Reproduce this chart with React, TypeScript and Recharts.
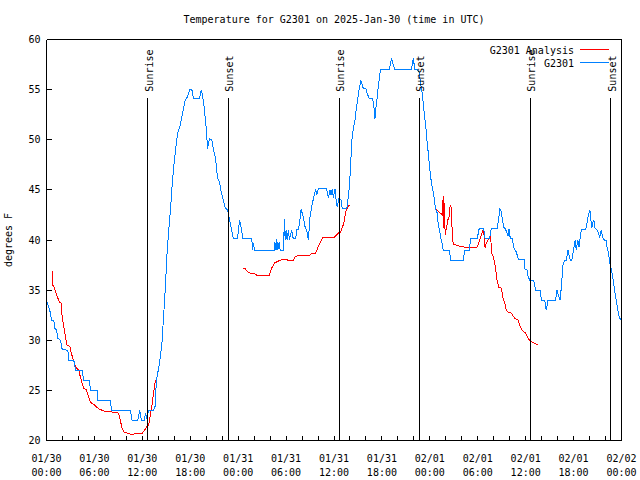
import { Legend, Line, LineChart, ReferenceLine, XAxis, YAxis } from "recharts";

const FONT = '"DejaVu Sans Mono", "Liberation Mono", monospace';

// observed temperature, hours since 01/30 00:00 UTC
const blueHours = [
  0, 0.29, 0.5, 0.63, 0.92, 1.04, 1.25, 1.42, 1.75, 1.96, 2.67, 2.79, 3.42, 3.63, 4.46, 4.67, 5.38, 5.5, 6.33, 6.42,
  8.0, 8.13, 10.5, 10.71, 11.42, 11.67, 11.88, 12.25, 12.38, 12.58, 12.79, 13.42, 13.63, 13.75, 14.04, 14.25, 14.46,
  14.67, 14.88, 15.08, 15.29, 15.5, 15.71, 15.92, 16.13, 16.42, 16.67, 16.96, 17.17, 17.38, 17.67, 17.92, 18.2, 18.42,
  19.17, 19.38, 19.58, 19.75, 20.0, 20.17, 20.29, 20.42, 20.7, 20.92, 21.13, 21.25, 21.42, 21.67, 21.83, 22.08, 22.38,
  22.67, 22.88, 23.13, 23.4, 23.9, 24.04, 24.17, 24.38, 24.6, 25.7, 25.83, 25.9, 26.04, 28.5, 28.6, 28.75, 28.83,
  28.96, 29.13, 29.25, 29.67, 29.79, 29.88, 30.0, 30.13, 30.29, 30.42, 30.7, 30.9, 31.2, 31.33, 31.54, 31.75, 31.88,
  32.17, 32.38, 32.58, 32.8, 32.88, 33.0, 33.2, 33.33, 33.54, 33.7, 33.83, 34.04, 35.08, 35.29, 35.5, 35.63, 35.79,
  35.92, 36.13, 36.25, 36.4, 36.63, 36.88, 37.04, 37.58, 37.67, 37.79, 37.92, 38.08, 38.2, 38.4, 38.63, 38.83, 39.04,
  39.17, 39.38, 39.54, 39.67, 40.0, 40.17, 40.42, 40.83, 41.0, 41.13, 41.25, 41.42, 41.54, 41.67, 41.83, 42.92, 43.08,
  43.2, 43.42, 43.63, 45.7, 45.83, 45.92, 46.04, 46.13, 46.42, 46.67, 46.83, 47.08, 47.25, 47.5, 47.67, 47.83, 48.0,
  48.2, 48.42, 48.54, 48.7, 48.92, 49.04, 49.25, 49.38, 49.58, 49.67, 50.42, 50.63, 52.17, 52.38, 52.92, 53.13, 53.92,
  54.17, 54.75, 54.92, 55.5, 55.58, 55.7, 56.42, 56.63, 56.75, 56.96, 57.08, 57.25, 57.46, 57.67, 57.79, 57.92, 58.08,
  58.33, 58.54, 58.83, 59.08, 59.79, 59.9, 60.17, 60.29, 60.5, 61.0, 61.25, 61.83, 61.96, 62.38, 62.58, 62.79, 63.75,
  63.92, 64.17, 64.33, 64.46, 64.58, 64.67, 64.88, 65.08, 65.2, 65.29, 65.42, 65.58, 65.79, 65.92, 66.04, 66.2, 66.33,
  66.54, 66.67, 66.83, 66.96, 67.5, 67.7, 67.79, 67.92, 68.04, 68.13, 68.29, 68.42, 68.54, 68.67, 68.96, 69.13, 69.25,
  69.46, 69.58, 69.67, 69.88, 70.08, 70.2, 70.38, 70.5, 70.7, 70.92, 71.13, 71.33, 71.54, 71.75, 72,
];
const blueTemps = [
  34, 33.3, 32.7, 32, 32, 31.2, 31, 30.2, 30, 29.1, 29, 28, 28, 27, 27, 26, 26, 25, 25, 24,
  24, 23, 23, 22, 22, 23, 22, 22, 22.7, 22.2, 23, 23, 23.5, 26, 27.2, 28.3, 29.8,
  32.5, 35.2, 38.5, 40.8, 42.8, 45.2, 47.2, 48.8, 50.7, 51.2, 52.3, 53.2, 54, 54.3, 55, 55, 54.1,
  54.1, 55, 54.2, 53.2, 51.2, 49.1, 49.7, 50.1, 50, 49, 48.3, 47.5, 46.2, 45.8, 45, 44.2, 43.2,
  43, 42.2, 41.2, 40.1, 40.1, 41, 42, 41.2, 40.1, 40.1, 39, 39.7, 39, 39, 39.8, 39, 40.1,
  39, 39.8, 39, 39, 42.1, 40, 41, 40, 41, 40, 41, 40.1, 40.1, 41, 41, 42.1, 43.1,
  42.2, 41.3, 41, 40, 41, 42.3, 43.3, 43.8, 44.5, 45.1, 44.5, 45.1, 45.1, 44.2, 45, 44.5, 45.1,
  44.2, 45.1, 44.1, 43.3, 44.2, 44, 43.1, 43.1, 43.5, 44.3, 45.3, 47.3, 49.7, 51, 52, 53.3, 54.5,
  55.2, 55.9, 55.5, 55.1, 55.1, 54.6, 54.1, 54.1, 53.3, 52.1, 53.2, 54.3, 55.3, 56.1, 57, 57, 57.6,
  58.1, 57.5, 57, 57, 57.7, 58.1, 57.5, 57, 57, 56.7, 55.7, 54.5, 53, 51.3, 49.7, 48.5, 47,
  45.7, 44.8, 44.2, 43.1, 42.7, 41.7, 40.8, 40.2, 39.5, 39, 39, 38, 38, 39, 39, 40.1, 40.1,
  41.1, 41.1, 40.1, 40.1, 40.7, 41.1, 41.1, 42.1, 43.1, 42.8, 42, 41.3, 41.1, 40.7, 40.4, 41.1, 40.1,
  40.1, 39.2, 38.8, 38.1, 38.1, 37.1, 37, 36.4, 36, 36, 35, 35, 34, 34, 33, 34, 34,
  35, 34.3, 34, 35.3, 36.5, 37.5, 38, 38, 38.5, 39, 38.5, 38, 38, 38.7, 39.2, 40, 39,
  40, 39.3, 40.2, 41, 41, 41.8, 42.2, 42.7, 43, 42.3, 41.2, 41.8, 42, 41.2, 41, 40.7, 40.2,
  41, 40.5, 40.2, 40, 40, 39.2, 38.7, 37.8, 37.2, 36.2, 35, 34, 33, 32.2, 32,
];

// analysis temperature, null marks a break in the line
const redHours = [
  0.71, 0.79, 1.0, 1.21, 1.42, 1.63, 1.83, 1.96, 2.17, 2.38, 2.58, 2.92, 3.08, 3.29, 3.5, 3.71, 4.04, 4.25, 4.46, 4.67,
  4.96, 5.2, 5.5, 5.92, 6.33, 6.67, 7.38, 8.83, 9.04, 9.25, 9.46, 9.75, 10.29, 10.7, 11.33, 11.96, 12.25, 12.58, 12.79,
  13.0, 13.2, 13.42, 13.63,
  19,
  24.6, 24.88, 25.08, 25.5, 25.9, 26.33, 27.88, 28.2, 28.54, 29.04, 29.67, 30.2, 30.9, 31.13, 31.63, 33.0, 33.3, 33.7,
  33.96, 34.25, 34.54, 35.92, 36.2, 36.54, 36.75, 37.08, 37.25, 37.46, 37.67, 37.92,
  43,
  48.7, 49.58, 49.67, 49.75, 49.83, 49.92, 50.08, 50.25, 50.42, 50.5, 50.63, 50.75, 50.79, 50.92, 51.33, 51.67, 52.25,
  53.92, 54.17, 54.46, 54.67, 54.79, 54.92, 55.08, 55.29, 55.5, 55.63, 55.7, 55.92, 56.13, 56.25, 56.42, 56.63, 56.96,
  57.17, 57.38, 57.58, 57.79, 58.2, 58.63, 59.04, 59.25, 59.58, 60.0, 60.29, 60.58, 60.92, 61.13, 61.6,
];
const redTemps = [
  36.9, 35.5, 35.2, 34.7, 34.2, 33.8, 33.7, 32.3, 31.3, 30.3, 29.5, 29.4, 28.8, 28.2, 27.7, 27.3, 27, 26.3, 25.7, 25.2,
  25.1, 24.5, 23.8, 23.6, 23.3, 23.1, 22.9, 22.8, 22.7, 22, 21.2, 20.8, 20.7, 20.6, 20.7, 20.7, 21, 21.4, 21.5,
  22.5, 23.5, 24.8, 26,
  null,
  37.2, 37.2, 36.9, 36.7, 36.7, 36.5, 36.5, 37.2, 37.7, 37.9, 38.1, 38, 38, 38.3, 38.5, 38.5, 38.7, 38.7,
  39.2, 39.7, 40.2, 40.2, 40.4, 40.7, 40.7, 41.3, 41.8, 42.8, 43.2, 43.5,
  null,
  43.1, 42.5, 44.4, 41.2, 43.7, 40.5, 41.2, 42, 42.3, 43.2, 43.5, 42.3, 40.9, 39.6, 39.5, 39.4, 39.3,
  39.3, 39.8, 40.5, 41, 40.5, 39.2, 39.7, 40, 40.3, 40.6, 38.7, 38.4, 37.7, 37, 36, 35.3, 35.2,
  34.2, 33.7, 33, 32.8, 32.7, 32.2, 32, 31.5, 31, 30.7, 30.2, 29.9, 29.8, 29.7, 29.5,
];

const sunriseHours = [12.66, 36.66, 60.55];
const sunsetHours = [22.79, 46.66, 70.66];

const xTicks = [
  0, 2, 4, 6, 8, 10, 12, 14, 16, 18, 20, 22, 24, 26, 28, 30, 32, 34, 36, 38, 40, 42, 44, 46, 48, 50, 52, 54, 56, 58,
  60, 62, 64, 66, 68, 70, 72,
];
const xTickDates = ["01/30", "01/30", "01/30", "01/30", "01/31", "01/31", "01/31", "01/31", "02/01", "02/01", "02/01", "02/01", "02/02"];
const xTickTimes = ["00:00", "06:00", "12:00", "18:00", "00:00", "06:00", "12:00", "18:00", "00:00", "06:00", "12:00", "18:00", "00:00"];
const yTicks = [20, 25, 30, 35, 40, 45, 50, 55, 60];
const seriesOrder = ["G2301 Analysis", "G2301"];

const blueData = blueHours.map((h, i) => ({ h, t: blueTemps[i] }));
const redData = redHours.map((h, i) => ({ h, t: redTemps[i] }));

const SUN_LINE_TOP = 54.2;

function BottomTick(props: any) {
  const { x, y, payload } = props;
  const idx = payload.value / 6;
  if (!Number.isInteger(idx)) return <g />;
  return (
    <g fontFamily={FONT} fontSize={10} fill="#000">
      <text x={x} y={y + 26} textAnchor="middle">{xTickDates[idx]}</text>
      <text x={x} y={y + 40} textAnchor="middle">{xTickTimes[idx]}</text>
    </g>
  );
}

const NoTick = () => <g />;

function sunLabel(text: string) {
  return (props: any) => {
    const vb = props.viewBox || props;
    const x = vb.x + 5;
    const y = vb.y - 6;
    return (
      <text x={x} y={y} transform={`rotate(-90 ${x} ${y})`} fontFamily={FONT} fontSize={10} fill="#000">
        {text}
      </text>
    );
  };
}

function LegendBox(props: any) {
  const items = [...(props.payload || [])].sort(
    (a: any, b: any) => seriesOrder.indexOf(a.value) - seriesOrder.indexOf(b.value)
  );
  return (
    <div style={{ position: "relative", width: 0, height: 0 }}>
      <svg width={140} height={30} style={{ position: "absolute", left: 480, top: 40, overflow: "visible" }}>
        {items.map((p: any, i: number) => (
          <g key={p.value}>
            <text x={94} y={13.5 + i * 13} textAnchor="end" fontFamily={FONT} fontSize={10} fill="#000">
              {p.value}
            </text>
            <line x1={100} x2={129} y1={9.5 + i * 13} y2={9.5 + i * 13} stroke={p.color} strokeWidth={1} />
          </g>
        ))}
      </svg>
    </div>
  );
}

export default function App() {
  const axisStroke = { stroke: "#000" };
  return (
    <div style={{ position: "absolute", left: 0, top: 0, width: 640, height: 480, background: "#fff" }}>
      <style>{`.recharts-surface path, .recharts-surface line, .legend-svg line { shape-rendering: crispEdges; }`}</style>
      <LineChart width={640} height={480} margin={{ top: 38.5, right: 17.5, bottom: 0, left: 0.5 }}>
        <XAxis
          xAxisId="bottom"
          dataKey="h"
          type="number"
          domain={[0, 72]}
          ticks={xTicks}
          interval={0}
          height={39.5}
          tickSize={-5}
          tickMargin={0}
          axisLine={axisStroke}
          tickLine={axisStroke}
          tick={<BottomTick />}
        />
        <XAxis
          xAxisId="top"
          orientation="top"
          dataKey="h"
          type="number"
          domain={[0, 72]}
          ticks={xTicks}
          interval={0}
          height={1}
          tickSize={-5}
          axisLine={axisStroke}
          tickLine={axisStroke}
          tick={<NoTick />}
        />
        <YAxis
          yAxisId="left"
          type="number"
          domain={[20, 60]}
          ticks={yTicks}
          interval={0}
          width={46}
          tickSize={-5}
          tickMargin={11}
          axisLine={axisStroke}
          tickLine={axisStroke}
          tick={{ fontSize: 10, fontFamily: FONT, fill: "#000" }}
        />
        <YAxis
          yAxisId="right"
          orientation="right"
          type="number"
          domain={[20, 60]}
          ticks={yTicks}
          interval={0}
          width={1}
          tickSize={-5}
          axisLine={axisStroke}
          tickLine={axisStroke}
          tick={<NoTick />}
        />
        <Legend
          content={<LegendBox />}
          layout="vertical"
          align="left"
          verticalAlign="top"
          wrapperStyle={{ left: 0, top: 0, width: 0, height: 0 }}
        />
        <Line
          xAxisId="bottom"
          yAxisId="left"
          data={redData}
          dataKey="t"
          name="G2301 Analysis"
          type="linear"
          stroke="#ff0000"
          strokeWidth={1}
          dot={false}
          activeDot={false}
          connectNulls={false}
          isAnimationActive={false}
        />
        <Line
          xAxisId="bottom"
          yAxisId="left"
          data={blueData}
          dataKey="t"
          name="G2301"
          type="linear"
          stroke="#0080ff"
          strokeWidth={1}
          dot={false}
          activeDot={false}
          isAnimationActive={false}
        />
        {sunriseHours.map((h) => (
          <ReferenceLine
            key={`rise-${h}`}
            xAxisId="bottom"
            yAxisId="left"
            segment={[{ x: h, y: SUN_LINE_TOP }, { x: h, y: 20 }]}
            stroke="#000"
            strokeWidth={1}
            label={sunLabel("Sunrise")}
          />
        ))}
        {sunsetHours.map((h) => (
          <ReferenceLine
            key={`set-${h}`}
            xAxisId="bottom"
            yAxisId="left"
            segment={[{ x: h, y: SUN_LINE_TOP }, { x: h, y: 20 }]}
            stroke="#000"
            strokeWidth={1}
            label={sunLabel("Sunset")}
          />
        ))}
      </LineChart>
      <svg width={640} height={480} style={{ position: "absolute", left: 0, top: 0, pointerEvents: "none" }}>
        <text x={334} y={23} textAnchor="middle" fontFamily={FONT} fontSize={10} fill="#000">
          Temperature for G2301 on 2025-Jan-30 (time in UTC)
        </text>
        <text x={12} y={240} transform="rotate(-90 12 240)" textAnchor="middle" fontFamily={FONT} fontSize={10} fill="#000">
          degrees F
        </text>
      </svg>
    </div>
  );
}
